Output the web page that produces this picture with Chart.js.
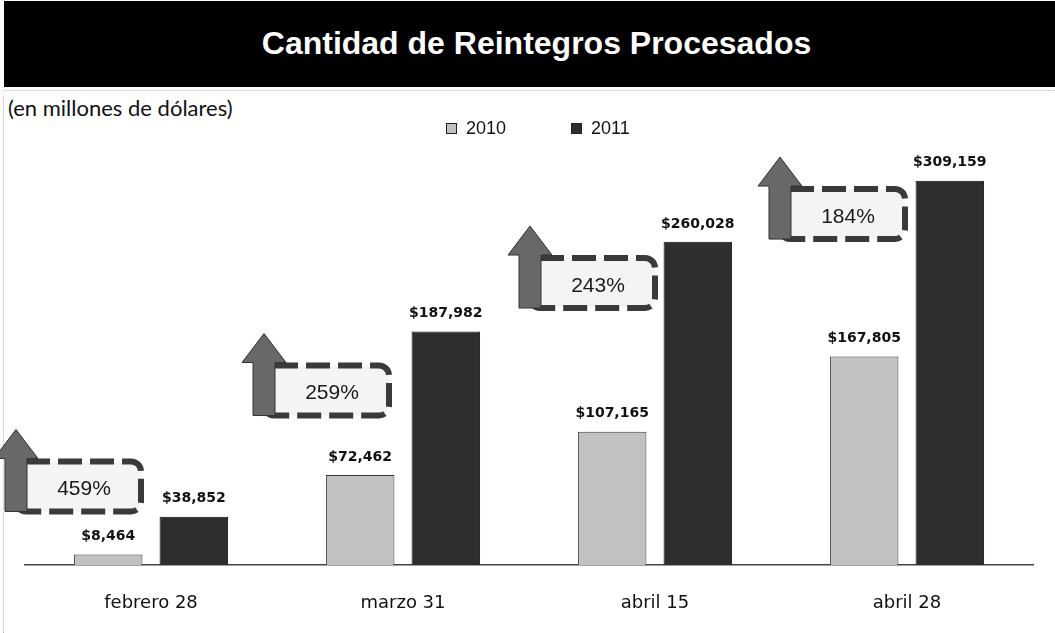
<!DOCTYPE html>
<html>
<head>
<meta charset="utf-8">
<script src="https://cdn.jsdelivr.net/npm/chart.js@4"></script>
<style>
  html, body { margin: 0; padding: 0; background: #fff; }
  body { width: 1055px; height: 633px; position: relative; overflow: hidden; }
  #banner {
    position: absolute; left: 4px; top: 1px; width: 1051px; height: 86px;
    background: #000; color: #fff; text-align: center;
    font: bold 32px "Liberation Sans", Arial, sans-serif; line-height: 84px;
    padding-left: 14px; box-sizing: border-box;
  }
  #rule { position: absolute; left: 4px; top: 90px; width: 1051px; border-top: 1px dotted #bbb; }
  #edge { position: absolute; left: 3px; top: 96px; height: 537px; border-left: 1px dotted #bbb; }
  #unit {
    position: absolute; left: 8px; top: 95px;
    font: 22px Lato, "Open Sans", sans-serif; line-height: 26px; color: #111;
  }
  #wrap { position: absolute; left: 0; top: 0; width: 1055px; height: 633px; }
</style>
</head>
<body>
<div id="banner">Cantidad de Reintegros Procesados</div>
<div id="rule"></div>
<div id="edge"></div>
<div id="unit">(en millones de dólares)</div>
<div id="wrap"><canvas id="refundChart"></canvas></div>

<script>
// datos
const categories = ['febrero 28', 'marzo 31', 'abril 15', 'abril 28'];
const seriesNames = ['2010', '2011'];
const values2010 = [8464, 72462, 107165, 167805];
const values2011 = [38852, 187982, 260028, 309159];

// where each growth badge sits: y level (in value units) and x nudge from the category centre
const badgeLevel = [63200, 140400, 226900, 282400];
const badgeShift = [-10, -14, 0, -2];

const fill2010 = '#c1c1c1';
const fill2011 = '#2e2e2e';

function money(v) {
    return '$' + v.toLocaleString('en-US');
}

const decorPlugin = {
    id: 'decor',
    afterDatasetsDraw(chart) {
        const { ctx, scales: { x, y } } = chart;
        ctx.save();

        // etiquetas de valor encima de cada barra
        ctx.font = 'bold 14px "DejaVu Sans", Verdana, sans-serif';
        ctx.fillStyle = '#111';
        ctx.textAlign = 'center';
        ctx.textBaseline = 'middle';
        chart.data.datasets.forEach((ds, d) => {
            chart.getDatasetMeta(d).data.forEach((bar, i) => {
                ctx.fillText(money(ds.data[i]), bar.x, bar.y - 18);
            });
        });

        // flechas y recuadros de crecimiento
        categories.forEach((c, i) => {
            const right = x.getPixelForValue(i) + badgeShift[i];
            const ax = right - 125;
            const cy = y.getPixelForValue(badgeLevel[i]);
            const top = cy - 25, bot = cy + 25;

            ctx.beginPath();
            ctx.roundRect(ax, top, right - ax, bot - top, 10);
            ctx.fillStyle = '#f4f4f4';
            ctx.fill();
            ctx.setLineDash([24, 8]);
            ctx.lineWidth = 6;
            ctx.strokeStyle = '#3a3a3a';
            ctx.stroke();
            ctx.setLineDash([]);

            const tip = top - 32, base = tip + 29;
            ctx.beginPath();
            ctx.moveTo(ax, tip);
            ctx.lineTo(ax + 22, base);
            ctx.lineTo(ax + 11, base);
            ctx.lineTo(ax + 11, bot);
            ctx.lineTo(ax - 11, bot);
            ctx.lineTo(ax - 11, base);
            ctx.lineTo(ax - 22, base);
            ctx.closePath();
            ctx.fillStyle = '#686868';
            ctx.fill();
            ctx.lineWidth = 1;
            ctx.strokeStyle = '#333';
            ctx.stroke();

            const pct = Math.round(values2011[i] / values2010[i] * 100) + '%';
            ctx.font = '21px "Liberation Sans", Arial, sans-serif';
            ctx.fillStyle = '#1a1a1a';
            ctx.fillText(pct, (ax + 11 + right) / 2, cy + 3);
        });
        ctx.restore();
    },
    afterDraw(chart) {
        // leyenda
        const { ctx } = chart;
        ctx.save();
        ctx.font = '18px "Liberation Sans", Arial, sans-serif';
        ctx.textBaseline = 'middle';
        ctx.textAlign = 'left';
        chart.data.datasets.forEach((ds, d) => {
            const lx = 446 + d * 125;
            ctx.fillStyle = ds.backgroundColor;
            ctx.fillRect(lx, 123, 11, 11);
            ctx.strokeStyle = '#222';
            ctx.lineWidth = 1;
            ctx.strokeRect(lx + 0.5, 123.5, 10, 10);
            ctx.fillStyle = '#111';
            ctx.fillText(ds.label, lx + 20, 129);
        });
        ctx.restore();
    }
};

new Chart(document.getElementById('refundChart').getContext('2d'), {
    type: 'bar',
    data: {
        labels: categories,
        datasets: [{
            label: seriesNames[0],
            data: values2010,
            backgroundColor: fill2010,
            borderColor: '#3a3a3a',
            borderWidth: 1
        }, {
            label: seriesNames[1],
            data: values2011,
            backgroundColor: fill2011,
            borderColor: '#111',
            borderWidth: 1
        }]
    },
    options: {
        responsive: true,
        maintainAspectRatio: false,
        animation: false,
        categoryPercentage: 0.68,
        barPercentage: 0.8,
        layout: {
            padding: { top: 140, left: 25, right: 22, bottom: 0 }
        },
        plugins: {
            legend: { display: false },
            tooltip: { enabled: false }
        },
        scales: {
            x: {
                grid: { display: false },
                border: { display: true, color: '#444', width: 1.5 },
                ticks: {
                    color: '#111',
                    padding: 20,
                    maxRotation: 0,
                    font: { family: '"DejaVu Sans", Verdana, sans-serif', size: 18 }
                },
                afterFit(scale) {
                    scale.height = 68;
                }
            },
            y: {
                display: false,
                min: 0,
                max: 342000
            }
        }
    },
    plugins: [decorPlugin]
});
</script>
</body>
</html>
